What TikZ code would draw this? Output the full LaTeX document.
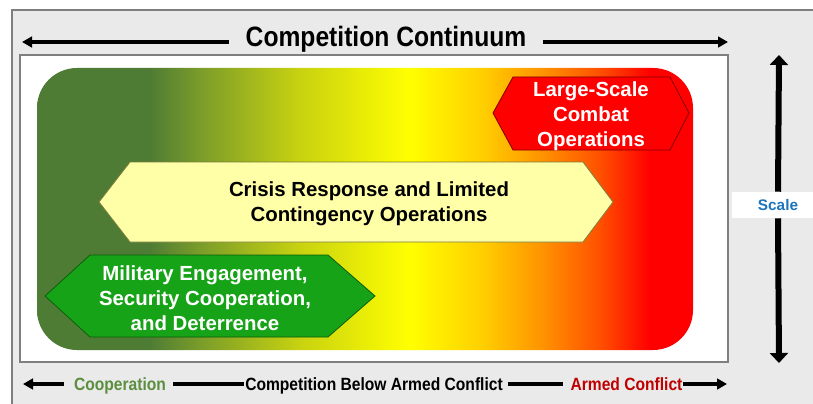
\documentclass[tikz,border=0pt]{standalone}
\usepackage{fontspec}
\setmainfont{Liberation Sans}
\newfontfamily\narrowfont[FakeStretch=0.88]{Liberation Sans}
\usetikzlibrary{arrows.meta,calc}
\definecolor{panelgray}{HTML}{EAEAEA}
\definecolor{bordergray}{HTML}{7F7F7F}
\definecolor{dgreen}{RGB}{79,124,52}
\definecolor{olivec}{RGB}{122,156,42}
\definecolor{ygreen}{RGB}{200,210,16}
\definecolor{yel}{RGB}{255,255,0}
\definecolor{goldc}{RGB}{255,208,0}
\definecolor{orng}{RGB}{255,150,0}
\definecolor{rorng}{RGB}{255,80,0}
\definecolor{rd}{RGB}{255,0,0}
\definecolor{coopgreen}{HTML}{5B8E3E}
\definecolor{armedred}{HTML}{C00000}
\definecolor{scaleblue}{HTML}{1C75BC}
\definecolor{hexgreen}{HTML}{17A317}
\definecolor{hexyellow}{HTML}{FFFFA8}
\definecolor{hexredborder}{HTML}{800000}
\definecolor{hexyellowborder}{HTML}{7A7A3A}
\definecolor{hexgreenborder}{HTML}{0B5E0B}
\pgfdeclarehorizontalshading{continuum}{100bp}{color(0bp)=(dgreen); color(25bp)=(dgreen); color(33.6bp)=(dgreen); color(37.4bp)=(olivec); color(45bp)=(ygreen); color(53.4bp)=(yel); color(58.8bp)=(goldc); color(63.3bp)=(orng); color(67.9bp)=(rorng); color(71.7bp)=(rd); color(100bp)=(rd)}
\tikzset{
  hexfill/.style={line width=0.6pt},
  hextext/.style={font=\bfseries\fontsize{15.3}{18.75}\selectfont, align=center, inner sep=0pt},
  harrow/.style={line width=2.5pt, -{Triangle[length=7.5pt,width=8pt]}},
  hline/.style={line width=2.5pt},
  varrow/.style={line width=4.5pt, -{Triangle[length=7.5pt,width=13.5pt]}},
  bottomtext/.style={font=\narrowfont\bfseries\fontsize{13.3}{16}\selectfont, inner sep=0pt, anchor=base},
}
\begin{document}
\begin{tikzpicture}[x=0.75pt,y=-0.75pt]
\useasboundingbox (0,0) rectangle (813,403);
\clip (0,0) rectangle (813,403);
% panels
\draw[bordergray, fill=panelgray, line width=1.2pt] (12,10) rectangle (840,430);
\draw[bordergray, fill=white, line width=0.8pt] (20,55) rectangle (728,362);
\shade[shading=continuum, rounded corners=30pt] (37,68) rectangle (693,350);
% hexagons
\draw[hexfill, draw=hexredborder, fill=rd] (493,113) -- (513,77) -- (670,77) -- (689,113) -- (670,150) -- (513,150) -- cycle;
\node[hextext, text=white] (lsco) at (591,116) {Large-Scale\\Combat\\Operations};
\draw[hexfill, draw=hexyellowborder, fill=hexyellow] (99,202) -- (130,162) -- (583,162) -- (613,202) -- (583,242) -- (130,242) -- cycle;
\node[hextext, text=black] (crisis) at (369,204) {Crisis Response and Limited\\Contingency Operations};
\draw[hexfill, draw=hexgreenborder, fill=hexgreen] (45,296) -- (90,255) -- (328,255) -- (375,296) -- (328,337) -- (90,337) -- cycle;
\node[hextext, text=white] (meng) at (205,298) {Military Engagement,\\Security Cooperation,\\and Deterrence};
% title
\coordinate (tl) at (22,42);
\coordinate (tr) at (728,42);
\node[font=\narrowfont\bfseries\fontsize{21}{25}\selectfont, inner xsep=12.5pt, inner ysep=0pt, anchor=base] (title) at (386,46) {Competition Continuum};
\draw[harrow] (title.west |- tl) -- (tl);
\draw[harrow] (title.east |- tr) -- (tr);
% scale
\coordinate (st) at (779,55);
\coordinate (sb) at (779,363);
\node[fill=white, minimum width=69pt, minimum height=19.5pt, inner sep=0pt, text=scaleblue, font=\bfseries\fontsize{11.5}{13}\selectfont] (scale) at (778,205) {Scale};
\draw[varrow] (scale.north) -- (st);
\draw[varrow] (scale.south) -- (sb);
% bottom
\coordinate (bl) at (23,384);
\coordinate (br) at (727,384);
\node[bottomtext, text=coopgreen] (coop) at (120,390) {Cooperation};
\node[bottomtext, text=black] (comp) at (374,390) {Competition Below Armed Conflict};
\node[bottomtext, text=armedred] (armed) at (626.5,390) {Armed Conflict};
\draw[harrow] ($(coop.west |- bl)+(-10,0)$) -- (bl);
\draw[hline] ($(coop.east |- bl)+(7,0)$) -- ($(comp.west |- bl)+(-1,0)$);
\draw[hline] ($(comp.east |- bl)+(5,0)$) -- ($(armed.west |- bl)+(-7,0)$);
\draw[harrow] (armed.east |- br) -- (br);
\end{tikzpicture}
\end{document}
